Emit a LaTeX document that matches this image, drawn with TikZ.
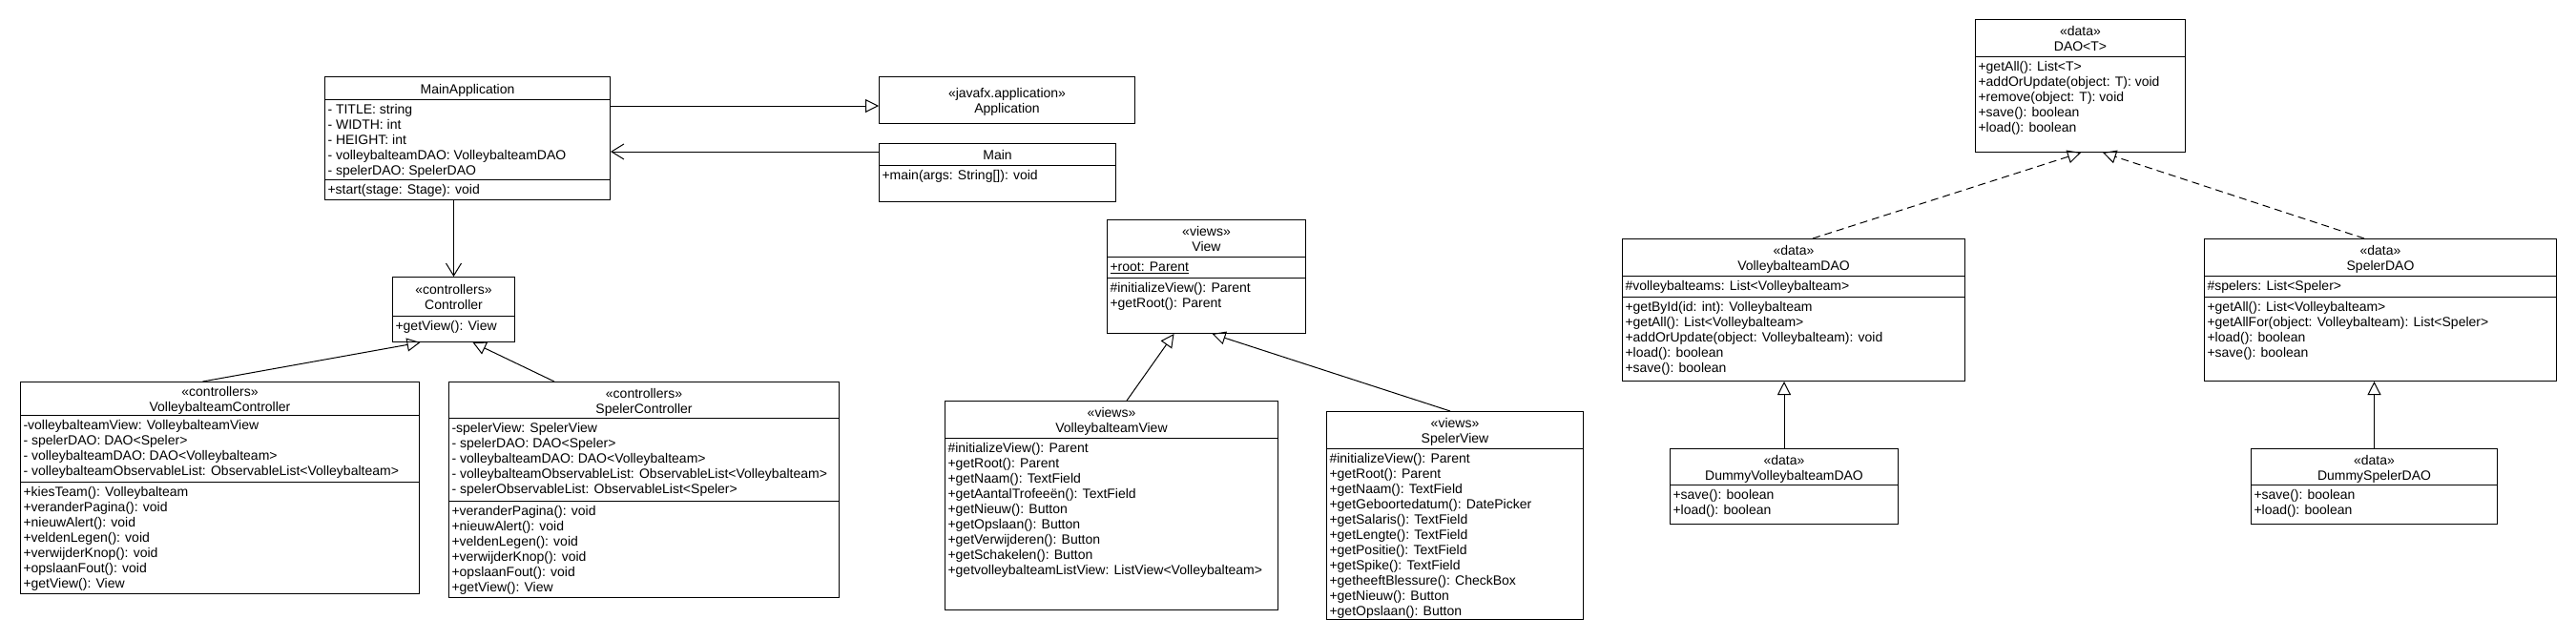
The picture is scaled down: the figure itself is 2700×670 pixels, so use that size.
\documentclass[tikz,border=0pt]{standalone}
\usepackage{fontspec}
\setmainfont{Liberation Sans}
\usetikzlibrary{arrows.meta,calc}

% name, top left corner, width, height, header height, header, attribute height, attributes, methods
\newcommand{\umlclass}[9]{%
  \node[class box, minimum width=#3pt, minimum height=#4pt] (#1) at #2 {};
  \node[head text] at ($(#1.north)+(0,#5/2)$) {#6};
  \draw ($(#1.north west)+(0,#5)$) -- ($(#1.north east)+(0,#5)$);
  \node[member text] at ($(#1.north west)+(0,#5)$) {\strut #8};
  \ifdim #7pt>0pt
    \draw ($(#1.north west)+(0,#5+#7)$) -- ($(#1.north east)+(0,#5+#7)$);
  \fi
  \node[member text] at ($(#1.north west)+(0,#5+#7)$) {\strut #9};
}

\begin{document}
\begin{tikzpicture}[x=1pt,y=-1pt,line width=1pt,
    class box/.style={draw,rectangle,inner sep=0pt,anchor=north west},
    head text/.style={align=center,inner sep=0pt,yshift=-3pt,font=\fontsize{14}{16}\selectfont},
    member text/.style={anchor=north west,align=left,inner xsep=3pt,inner ysep=3.8pt,font=\fontsize{14}{16}\selectfont},
    gen/.style={-{Triangle[open,length=14pt,width=14pt]}},
    real/.style={gen,dash pattern=on 8pt off 5pt},
    assoc/.style={-{Straight Barb[length=13pt,width=16pt]}}]
  \useasboundingbox[fill=white] (0,0) rectangle (2700,670);

  % application
  \umlclass{MainApplication}{(340,80)}{299}{129}{24}{\strut MainApplication}{84}
    {- TITLE: string\\- WIDTH: int\\- HEIGHT: int\\- volleybalteamDAO: VolleybalteamDAO\\- spelerDAO: SpelerDAO}
    {+start(stage: Stage): void}
  \umlclass{Application}{(921,80)}{268}{49}{49}{\strut «javafx.application»\\\strut Application}{0}{}{}
  \umlclass{Main}{(921,150)}{248}{61}{23}{\strut Main}{0}{}{+main(args: String[]): void}

  % controllers
  \umlclass{Controller}{(411,290)}{128}{68}{41}{\strut «controllers»\\\strut Controller}{0}{}
    {+getView(): View}
  \umlclass{VolleybalteamController}{(21,400)}{418}{222}{35}{\strut «controllers»\\\strut VolleybalteamController}{70}
    {-volleybalteamView: VolleybalteamView\\- spelerDAO: DAO<Speler>\\- volleybalteamDAO: DAO<Volleybalteam>\\- volleybalteamObservableList: ObservableList<Volleybalteam>}
    {+kiesTeam(): Volleybalteam\\+veranderPagina(): void\\+nieuwAlert(): void\\+veldenLegen(): void\\+verwijderKnop(): void\\+opslaanFout(): void\\+getView(): View}
  \umlclass{SpelerController}{(470,400)}{409}{226}{38}{\strut «controllers»\\\strut SpelerController}{87}
    {-spelerView: SpelerView\\- spelerDAO: DAO<Speler>\\- volleybalteamDAO: DAO<Volleybalteam>\\- volleybalteamObservableList: ObservableList<Volleybalteam>\\- spelerObservableList: ObservableList<Speler>}
    {+veranderPagina(): void\\+nieuwAlert(): void\\+veldenLegen(): void\\+verwijderKnop(): void\\+opslaanFout(): void\\+getView(): View}

  % views
  \umlclass{View}{(1160,230)}{208}{119}{39}{\strut «views»\\\strut View}{22}
    {\underline{+root: Parent}}
    {\#initializeView(): Parent\\+getRoot(): Parent}
  \umlclass{VolleybalteamView}{(990,420)}{349}{219}{39}{\strut «views»\\\strut VolleybalteamView}{0}{}
    {\#initializeView(): Parent\\+getRoot(): Parent\\+getNaam(): TextField\\+getAantalTrofeeën(): TextField\\+getNieuw(): Button\\+getOpslaan(): Button\\+getVerwijderen(): Button\\+getSchakelen(): Button\\+getvolleybalteamListView: ListView<Volleybalteam>}
  \umlclass{SpelerView}{(1390,431)}{269}{218}{39}{\strut «views»\\\strut SpelerView}{0}{}
    {\#initializeView(): Parent\\+getRoot(): Parent\\+getNaam(): TextField\\+getGeboortedatum(): DatePicker\\+getSalaris(): TextField\\+getLengte(): TextField\\+getPositie(): TextField\\+getSpike(): TextField\\+getheeftBlessure(): CheckBox\\+getNieuw(): Button\\+getOpslaan(): Button}

  % data
  \umlclass{DAO}{(2070,20)}{220}{139}{39}{\strut «data»\\\strut DAO<T>}{0}{}
    {+getAll(): List<T>\\+addOrUpdate(object: T): void\\+remove(object: T): void\\+save(): boolean\\+load(): boolean}
  \umlclass{VolleybalteamDAO}{(1700,250)}{359}{149}{39}{\strut «data»\\\strut VolleybalteamDAO}{22}
    {\#volleybalteams: List<Volleybalteam>}
    {+getById(id: int): Volleybalteam\\+getAll(): List<Volleybalteam>\\+addOrUpdate(object: Volleybalteam): void\\+load(): boolean\\+save(): boolean}
  \umlclass{SpelerDAO}{(2310,250)}{369}{149}{39}{\strut «data»\\\strut SpelerDAO}{22}
    {\#spelers: List<Speler>}
    {+getAll(): List<Volleybalteam>\\+getAllFor(object: Volleybalteam): List<Speler>\\+load(): boolean\\+save(): boolean}
  \umlclass{DummyVolleybalteamDAO}{(1750,470)}{239}{79}{38}{\strut «data»\\\strut DummyVolleybalteamDAO}{0}{}
    {+save(): boolean\\+load(): boolean}
  \umlclass{DummySpelerDAO}{(2359,470)}{258}{79}{38}{\strut «data»\\\strut DummySpelerDAO}{0}{}
    {+save(): boolean\\+load(): boolean}

  % connectors
  \coordinate (mainlink) at ($(Main.north west)+(0,9)$);
  \draw[gen] ($(MainApplication.north east)+(0,31)$) -- ($(Application.north west)+(0,31)$);
  \draw[assoc] (mainlink) -- (mainlink -| MainApplication.east);
  \draw[assoc] (Controller.north |- MainApplication.south) -- (Controller.north);
  \draw[gen] ($(VolleybalteamController.north)+(-18,0)$) -- ($(Controller.south)+(-35,0)$);
  \draw[gen] ($(SpelerController.north)+(-94,0)$) -- ($(Controller.south)+(20,0)$);
  \draw[gen] ($(VolleybalteamView.north)+(16,0)$) -- ($(View.south)+(-34,0)$);
  \draw[gen] ($(SpelerView.north)+(-5,0)$) -- ($(View.south)+(6,0)$);
  \draw[real] ($(VolleybalteamDAO.north)+(20,0)$) -- ($(DAO.south west)+(111,0)$);
  \draw[real] ($(SpelerDAO.north)+(-17,0)$) -- ($(DAO.south west)+(134,0)$);
  \draw[gen] (DummyVolleybalteamDAO.north) -- (DummyVolleybalteamDAO.north |- VolleybalteamDAO.south);
  \draw[gen] (DummySpelerDAO.north) -- (DummySpelerDAO.north |- SpelerDAO.south);
\end{tikzpicture}
\end{document}
